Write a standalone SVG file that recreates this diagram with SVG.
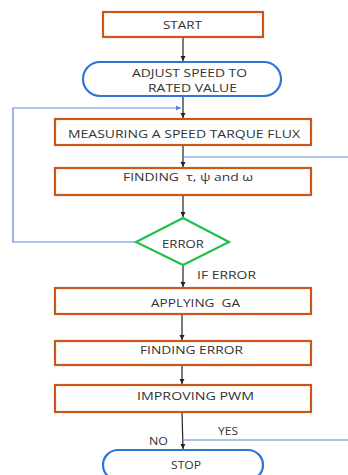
<svg xmlns="http://www.w3.org/2000/svg" width="348" height="475" viewBox="0 0 348 475">
<style>
.box{fill:#fff;stroke:#C9581A;stroke-width:2.2}
.term{fill:#fff;stroke:#2E75D6;stroke-width:2.2}
.dec{fill:#fff;stroke:#22C04A;stroke-width:2.2}
.t{font-family:"Open Sans","Liberation Sans",sans-serif;font-size:11px;font-weight:500;fill:#333;text-anchor:middle}
.s{text-anchor:start}
.fl{stroke:#222;stroke-width:1.2;fill:none}
.bl{stroke:#5B86E0;stroke-width:1.2;fill:none}
</style>
<defs>
<marker id="ah" markerWidth="6" markerHeight="6" refX="5" refY="3" orient="auto" markerUnits="userSpaceOnUse">
<path d="M0,0.5 L5,3 L0,5.5 Z" fill="#222"/>
</marker>
<marker id="bh" markerWidth="6" markerHeight="6" refX="5" refY="3" orient="auto" markerUnits="userSpaceOnUse">
<path d="M0,0.5 L5,3 L0,5.5 Z" fill="#5B86E0"/>
</marker>
</defs>
<rect width="348" height="475" fill="#fff"/>
<g id="connectors">
<line class="fl" x1="183" y1="37" x2="183" y2="61" marker-end="url(#ah)"/>
<line class="fl" x1="183" y1="96" x2="183" y2="118" marker-end="url(#ah)"/>
<line class="fl" x1="183" y1="145" x2="183" y2="167" marker-end="url(#ah)"/>
<line class="fl" x1="183" y1="195" x2="183" y2="217" marker-end="url(#ah)"/>
<line class="fl" x1="183" y1="265" x2="183" y2="287" marker-end="url(#ah)"/>
<line class="fl" x1="182" y1="314" x2="182" y2="340" marker-end="url(#ah)"/>
<line class="fl" x1="182" y1="365" x2="182" y2="384" marker-end="url(#ah)"/>
<line class="fl" x1="182" y1="412" x2="183" y2="449" marker-end="url(#ah)"/>
<polyline class="bl" points="136,242 13,242 13,108 181,108" marker-end="url(#bh)"/>
<line class="bl" x1="183" y1="157" x2="348" y2="157"/>
<line class="bl" x1="182" y1="440" x2="348" y2="440"/>
<text class="t s" x="197" y="279" textLength="59" lengthAdjust="spacingAndGlyphs">IF ERROR</text>
<text class="t s" x="149" y="445" textLength="19" lengthAdjust="spacingAndGlyphs">NO</text>
<text class="t s" x="218" y="435" textLength="20" lengthAdjust="spacingAndGlyphs">YES</text>
</g>
<g id="start">
<rect class="box" x="103" y="12" width="160" height="25"/>
<text class="t" x="182.5" y="29" textLength="39" lengthAdjust="spacingAndGlyphs">START</text>
</g>
<g id="adjust">
<rect class="term" x="83" y="62" width="198" height="34" rx="17"/>
<text class="t" x="189.5" y="77" textLength="115" lengthAdjust="spacingAndGlyphs">ADJUST SPEED TO</text>
<text class="t" x="192.5" y="92" textLength="89" lengthAdjust="spacingAndGlyphs">RATED VALUE</text>
</g>
<g id="measure">
<rect class="box" x="55" y="119" width="256" height="26"/>
<text class="t" x="184" y="138" textLength="232" lengthAdjust="spacingAndGlyphs">MEASURING A SPEED TARQUE FLUX</text>
</g>
<g id="finding">
<rect class="box" x="55" y="168" width="256" height="27"/>
<text class="t" x="188" y="181" textLength="130" lengthAdjust="spacingAndGlyphs" xml:space="preserve">FINDING  τ, ψ and ω</text>
</g>
<g id="error">
<polygon class="dec" points="183,218 229,242 183,265 136,242"/>
<text class="t" x="183" y="248" textLength="42" lengthAdjust="spacingAndGlyphs">ERROR</text>
</g>
<g id="applying">
<rect class="box" x="55" y="288" width="256" height="26"/>
<text class="t" x="195.5" y="307" textLength="89" lengthAdjust="spacingAndGlyphs" xml:space="preserve">APPLYING  GA</text>
</g>
<g id="findingerror">
<rect class="box" x="55" y="341" width="256" height="24"/>
<text class="t" x="191.5" y="354" textLength="103" lengthAdjust="spacingAndGlyphs">FINDING ERROR</text>
</g>
<g id="improving">
<rect class="box" x="55" y="385" width="256" height="27"/>
<text class="t" x="195.5" y="400" textLength="117" lengthAdjust="spacingAndGlyphs">IMPROVING PWM</text>
</g>
<g id="stop">
<rect class="term" x="103" y="450" width="160" height="30" rx="15"/>
<text class="t" x="186" y="469" textLength="30" lengthAdjust="spacingAndGlyphs">STOP</text>
</g>
</svg>
